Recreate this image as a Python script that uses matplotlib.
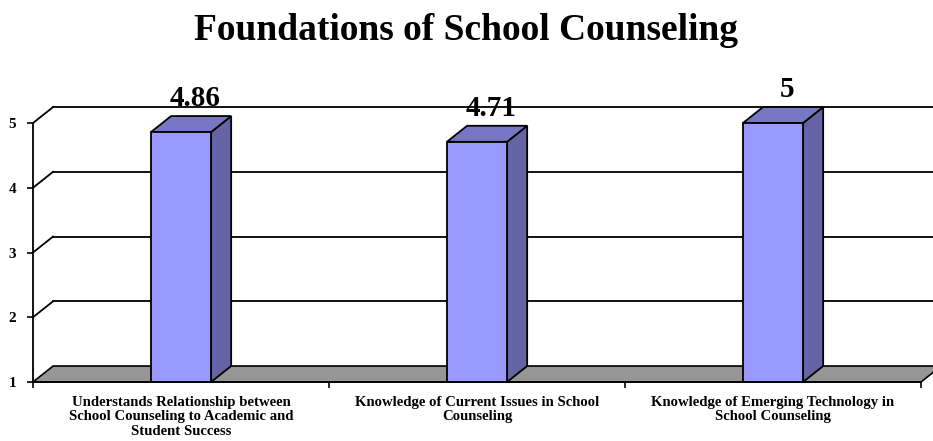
import numpy as np
import matplotlib.pyplot as plt
from matplotlib.patches import Polygon, Rectangle

plt.rcParams['font.family'] = ['Liberation Serif', 'DejaVu Serif']
plt.rcParams['font.weight'] = 'bold'

categories = [
    "Understands Relationship between\nSchool Counseling to Academic and\nStudent Success",
    "Knowledge of Current Issues in School\nCounseling",
    "Knowledge of Emerging Technology in\nSchool Counseling",
]
values = [4.86, 4.71, 5]
value_labels = ["4.86", "4.71", "5"]
y_ticks = [1, 2, 3, 4, 5]

# 3d look: depth offset in data units
dx = 0.068
dy = 0.247
bar_w = 0.203
ymin, ymax = 1, 5
n = len(categories)

fig = plt.figure(figsize=(9.33, 4.41), dpi=100)
ax = fig.add_axes([33 / 933, 59 / 441, 888 / 933, 259 / 441])
ax.set_xlim(0, n)
ax.set_ylim(ymin, ymax)

# floor
floor = Polygon([(0, ymin), (n, ymin), (n + dx, ymin + dy), (dx, ymin + dy)],
                closed=True, facecolor='#969696', edgecolor='black', lw=1.2,
                clip_on=False, zorder=1)
ax.add_patch(floor)

# gridlines on back wall + slanted connectors
for yv in y_ticks[1:]:
    ax.plot([dx, n + 2 * dx], [yv + dy, yv + dy], color='black', lw=1.3,
            clip_on=False, zorder=2)
    ax.plot([0, dx], [yv, yv + dy], color='black', lw=1.3,
            clip_on=False, zorder=2)

# bars
face = '#9999FF'
top_c = '#7777C4'
side_c = '#6464A4'
for i, v in enumerate(values):
    c = i + 0.5
    x0, x1 = c - bar_w / 2, c + bar_w / 2
    ax.add_patch(Polygon([(x1, ymin), (x1 + dx, ymin + dy), (x1 + dx, v + dy), (x1, v)],
                         closed=True, facecolor=side_c, edgecolor='black', lw=1.3,
                         clip_on=False, zorder=3))
    ax.add_patch(Polygon([(x0, v), (x1, v), (x1 + dx, v + dy), (x0 + dx, v + dy)],
                         closed=True, facecolor=top_c, edgecolor='black', lw=1.3,
                         clip_on=False, zorder=3))
    ax.add_patch(Rectangle((x0, ymin), bar_w, v - ymin, facecolor=face,
                           edgecolor='black', lw=1.3, clip_on=False, zorder=4))
    ax.annotate(value_labels[i], (c + dx / 2 + 0.015, v + dy), xytext=(0, 7),
                textcoords='offset points', ha='center', va='baseline',
                fontsize=21, fontweight='bold', zorder=5, annotation_clip=False)

# axes styling
for s in ['top', 'right']:
    ax.spines[s].set_visible(False)
ax.spines['left'].set_linewidth(1.3)
ax.spines['bottom'].set_linewidth(1.3)
ax.spines['left'].set_zorder(5)
ax.spines['bottom'].set_zorder(5)

ax.set_yticks(y_ticks)
ax.set_yticklabels([str(t) for t in y_ticks], fontsize=11, fontweight='bold')
ax.tick_params(axis='y', length=4, width=1.2, pad=8)

ax.set_xticks([i + 0.5 for i in range(n)])
ax.set_xticklabels(categories, fontsize=10.6, fontweight='bold', linespacing=1.15)
ax.set_xticks(range(n + 1), minor=True)
ax.tick_params(axis='x', which='major', length=0, pad=10)
ax.tick_params(axis='x', which='minor', length=4, width=1.2)

fig.text(0.5, 1 - 31 / 441, "Foundations of School Counseling", ha='center',
         va='center', fontsize=27, fontweight='bold')

fig.savefig('out.png', dpi=100)
